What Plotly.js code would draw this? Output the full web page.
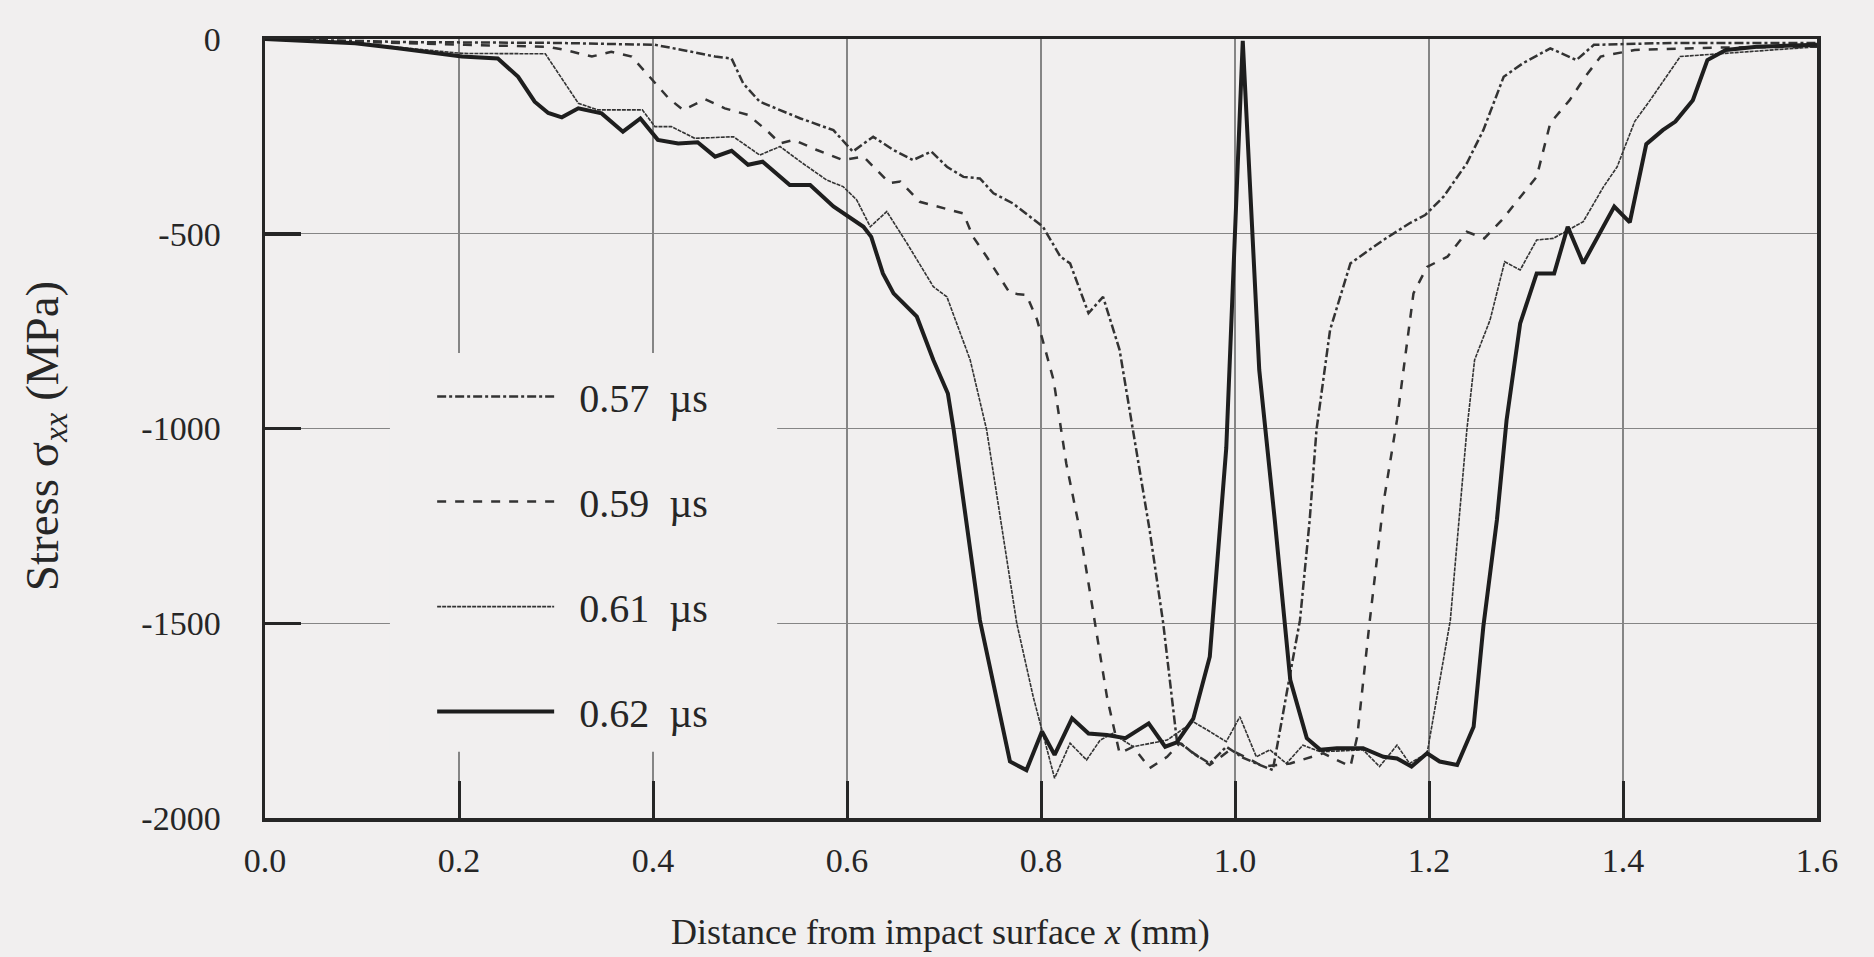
<!DOCTYPE html>
<html>
<head>
<meta charset="utf-8">
<script src="https://cdn.plot.ly/plotly-3.0.1.min.js"></script>
<style>html,body{margin:0;padding:0;background:#f1efef;}#chart{width:1874px;height:957px;}</style>
</head>
<body>
<div id="chart"></div>
<script>
// Series names (legend labels)
const seriesNames = ['\u00a0\u00a00.57\u00a0\u00a0\u00b5s', '\u00a0\u00a00.59\u00a0\u00a0\u00b5s', '\u00a0\u00a00.61\u00a0\u00a0\u00b5s', '\u00a0\u00a00.62\u00a0\u00a0\u00b5s'];

// 0.57 us (dash-dot)
const x57 = [0,0.15,0.3,0.402,0.430,0.464,0.481,0.493,0.510,0.527,0.552,0.586,0.606,0.627,0.648,0.668,0.687,0.703,0.720,0.737,0.751,0.771,0.802,0.820,0.830,0.849,0.864,0.881,0.895,0.912,0.926,0.940,0.957,0.974,0.991,1.008,1.026,1.039,1.057,1.067,1.077,1.084,1.098,1.119,1.153,1.180,1.196,1.215,1.239,1.256,1.277,1.297,1.325,1.352,1.370,1.45,1.6];
const y57 = [0,-8,-10,-15,-28,-45,-50,-114,-161,-178,-204,-234,-289,-251,-285,-311,-289,-328,-354,-358,-396,-422,-482,-559,-576,-704,-662,-798,-1004,-1261,-1500,-1800,-1834,-1860,-1817,-1845,-1864,-1877,-1628,-1492,-1235,-1004,-747,-576,-516,-473,-452,-405,-319,-234,-97,-62,-24,-54,-15,-10,-10];

// 0.59 us (dashed)
const x59 = [0,0.1,0.206,0.292,0.309,0.337,0.357,0.378,0.402,0.416,0.431,0.454,0.474,0.498,0.517,0.531,0.545,0.569,0.596,0.617,0.644,0.655,0.675,0.720,0.730,0.744,0.768,0.785,0.796,0.813,0.826,0.840,0.854,0.868,0.881,0.895,0.912,0.930,0.943,0.957,0.974,0.995,1.012,1.029,1.057,1.091,1.105,1.119,1.126,1.139,1.153,1.167,1.184,1.198,1.219,1.239,1.257,1.275,1.311,1.325,1.345,1.361,1.377,1.412,1.5,1.6];
const y59 = [0,-8,-15,-20,-28,-45,-33,-45,-114,-152,-182,-155,-178,-195,-234,-268,-259,-285,-311,-302,-370,-366,-418,-448,-508,-559,-653,-657,-721,-876,-1089,-1261,-1474,-1689,-1834,-1817,-1872,-1843,-1808,-1834,-1864,-1825,-1845,-1868,-1860,-1834,-1850,-1868,-1791,-1492,-1192,-978,-653,-585,-559,-495,-512,-465,-354,-216,-157,-97,-45,-28,-22,-20];

// 0.61 us (dotted)
const x61 = [0,0.1,0.203,0.24,0.289,0.323,0.343,0.389,0.402,0.419,0.443,0.483,0.510,0.531,0.552,0.579,0.596,0.610,0.624,0.641,0.662,0.689,0.703,0.727,0.744,0.775,0.792,0.814,0.830,0.847,0.861,0.874,0.895,0.930,0.957,0.974,0.991,1.005,1.022,1.036,1.053,1.070,1.088,1.132,1.149,1.167,1.180,1.198,1.222,1.239,1.247,1.263,1.278,1.294,1.311,1.328,1.359,1.380,1.394,1.412,1.428,1.459,1.487,1.55,1.6];
const y61 = [0,-12,-37,-38,-38,-165,-182,-182,-225,-225,-255,-251,-298,-276,-315,-362,-379,-413,-482,-443,-525,-636,-662,-824,-1004,-1500,-1689,-1898,-1808,-1851,-1800,-1783,-1817,-1800,-1753,-1778,-1804,-1740,-1843,-1825,-1860,-1813,-1830,-1825,-1868,-1813,-1860,-1834,-1492,-1004,-824,-721,-572,-593,-516,-512,-469,-379,-328,-212,-157,-45,-40,-28,-20];

// 0.62 us (solid, thick)
const x62 = [0,0.093,0.137,0.203,0.240,0.261,0.278,0.292,0.306,0.323,0.347,0.369,0.387,0.405,0.426,0.446,0.464,0.481,0.498,0.513,0.541,0.562,0.586,0.603,0.617,0.625,0.637,0.648,0.672,0.689,0.704,0.710,0.737,0.768,0.785,0.801,0.814,0.832,0.849,0.868,0.887,0.911,0.928,0.940,0.957,0.974,0.991,1.008,1.025,1.041,1.057,1.074,1.088,1.105,1.132,1.153,1.167,1.182,1.198,1.211,1.229,1.246,1.256,1.270,1.280,1.294,1.311,1.329,1.343,1.359,1.391,1.407,1.424,1.441,1.454,1.472,1.487,1.506,1.538,1.6];
const y62 = [0,-11,-24,-45,-50,-97,-161,-190,-201,-178,-191,-238,-204,-259,-268,-265,-302,-287,-323,-315,-375,-375,-430,-460,-482,-508,-602,-653,-713,-824,-910,-1004,-1492,-1855,-1877,-1778,-1838,-1744,-1783,-1787,-1795,-1757,-1817,-1806,-1745,-1586,-1050,-5,-850,-1235,-1646,-1795,-1825,-1821,-1821,-1843,-1847,-1868,-1834,-1855,-1864,-1766,-1509,-1235,-978,-730,-602,-602,-482,-576,-430,-471,-270,-234,-212,-157,-54,-28,-20,-15];

// Tick labels
const xTickVals = [0,0.2,0.4,0.6,0.8,1.0,1.2,1.4,1.6];
const xTickText = ['0.0','0.2','0.4','0.6','0.8','1.0','1.2','1.4','1.6'];
const yTickVals = [-2000,-1500,-1000,-500,0];
const yTickText = ['-2000','-1500','-1000','-500','0'];

const BG = '#f1efef';
const INK = '#262626';
const FONT = 'Liberation Serif, Times New Roman, serif';

const traces = [
  {x:x57, y:y57, name:seriesNames[0], legendgroup:'a', mode:'lines', line:{color:'#333333', width:2.5, dash:'dashdot'}},
  {x:x59, y:y59, name:seriesNames[1], legendgroup:'b', mode:'lines', line:{color:'#333333', width:2.5, dash:'dash'}},
  {x:x61, y:y61, name:seriesNames[2], legendgroup:'c', mode:'lines', line:{color:'#333333', width:1.6, dash:'4px,1px'}},
  {x:x62, y:y62, name:seriesNames[3], legendgroup:'d', mode:'lines', line:{color:'#1e1e1e', width:4}}
];

const layout = {
  width:1874, height:957,
  paper_bgcolor:BG, plot_bgcolor:BG,
  margin:{l:265, r:57, t:39, b:139},
  font:{family:FONT, size:34, color:INK},
  showlegend:true,
  legend:{x:0.1077, y:0.5827, xanchor:'left', yanchor:'top', bgcolor:'rgba(0,0,0,0)',
          itemwidth:117, tracegroupgap:50, font:{family:FONT, size:40, color:INK}},
  xaxis:{range:[0,1.6], tickvals:xTickVals, ticktext:xTickText, ticks:'inside', ticklen:37, tickwidth:3,
         tickcolor:INK, showline:true, linewidth:3.5, linecolor:INK, mirror:true,
         showgrid:true, gridcolor:'#858585', gridwidth:1.2, zeroline:false,
         ticklabelstandoff:10, tickfont:{family:FONT, size:34, color:INK}},
  yaxis:{range:[-2000,0], tickvals:yTickVals, ticktext:yTickText, ticks:'inside', ticklen:36, tickwidth:3.5,
         tickcolor:INK, showline:true, linewidth:3.5, linecolor:INK, mirror:true,
         showgrid:true, gridcolor:'#858585', gridwidth:1.2, zeroline:false,
         ticklabelstandoff:34, tickfont:{family:FONT, size:34, color:INK}},
  shapes:[
    {type:'rect', xref:'paper', yref:'paper', x0:0.0805, x1:0.33, y0:0.085, y1:0.597,
     fillcolor:BG, line:{width:0}, layer:'above'}
  ],
  annotations:[
    {xref:'paper', yref:'paper', x:0.435, y:-0.146, xanchor:'center', yanchor:'middle', showarrow:false,
     text:'Distance from impact surface <i>x</i> (mm)', font:{family:FONT, size:36, color:INK}},
    {xref:'paper', yref:'paper', x:-0.1418, y:0.49, xanchor:'center', yanchor:'middle', showarrow:false, textangle:-90,
     text:'Stress\u00a0\u03c3<sub><i>xx</i></sub> (MPa)', font:{family:FONT, size:47, color:INK}}
  ]
};

Plotly.newPlot('chart', traces, layout, {displayModeBar:false, staticPlot:true});
</script>
</body>
</html>
